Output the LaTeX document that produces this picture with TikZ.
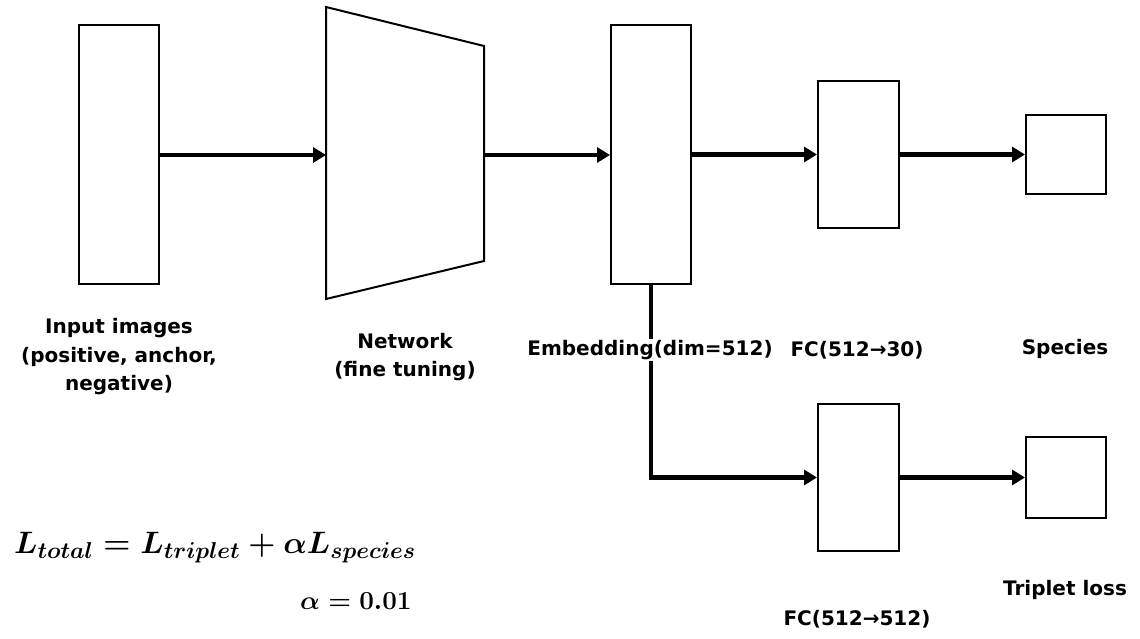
\RequirePackage{fix-cm}
\documentclass[tikz,border=0pt]{standalone}
\usepackage{amsmath}
\usepackage{fontspec}
\setmainfont{DejaVu Sans}
\usetikzlibrary{arrows.meta}
\DeclareMathSizes{31}{31}{23}{17}
\tikzset{
  box/.style={draw, line width=2pt, minimum width=80pt, inner sep=0pt, anchor=north west},
  conn/.style={line width=4.5pt, -{Triangle[length=13pt,width=15pt]}},
  lbl/.style={font=\fontsize{20}{28.5}\selectfont\bfseries, align=center, inner sep=1pt}
}
\newcommand{\ar}{→}
\begin{document}
\mathversion{bold}
\begin{tikzpicture}[x=1pt,y=-1pt]
\useasboundingbox (0,0) rectangle (1140,639);
% boxes
\node[box, minimum height=259pt] (inp) at (78,24) {};
\node[box, minimum height=259pt] (emb) at (610,24) {};
\node[box, minimum height=147pt, minimum width=81pt] (fca) at (817,80) {};
\node[box, minimum height=79pt] (sp) at (1025,114) {};
\node[box, minimum height=147pt, minimum width=81pt] (fcb) at (817,403) {};
\node[box, minimum height=81pt] (tl) at (1025,436) {};
% trapezoid network
\coordinate (n1) at (326,7);
\coordinate (n2) at (484,46);
\coordinate (n3) at (484,261);
\coordinate (n4) at (326,299);
\coordinate (nl) at (326,155);
\coordinate (nr) at (484,155);
\draw[line width=2pt, line join=miter] (n1) -- (n2) -- (n3) -- (n4) -- cycle;
% connectors
\draw[conn] (inp.east |- nl) -- (nl);
\draw[conn] (nr) -- (emb.west |- nr);
\draw[conn] (emb.east |- fca.west) -- (fca.west);
\draw[conn] (fca.east) -- (sp.west);
\draw[conn] (emb.south) |- (fcb.west);
\draw[conn] (fcb.east |- tl.west) -- (tl.west);
% labels
\node[lbl] (tinp) at (119,357) {Input images\\(positive, anchor,\\negative)};
\node[lbl] (tnet) at (405,357) {Network\\(fine tuning)};
\node[lbl, fill=white] (temb) at (650,350) {Embedding(dim=512)};
\node[lbl] (tfca) at (857,350) {FC(512\ar30)};
\node[lbl] (tsp) at (1065,349) {Species};
\node[lbl] (ttl) at (1065,590) {Triplet loss};
\node[lbl] (tfcb) at (857,619) {FC(512\ar512)};
% equation
\node[anchor=west, inner sep=0pt, font=\fontsize{31}{36}\selectfont] (eq) at (14,548) {$L_{total}=L_{triplet}+\alpha L_{species}$};
\node[anchor=west, inner sep=0pt, font=\fontsize{26}{30}\selectfont] (alpha) at (300,601) {$\alpha=\mathbf{0.01}$};
\end{tikzpicture}
\end{document}
